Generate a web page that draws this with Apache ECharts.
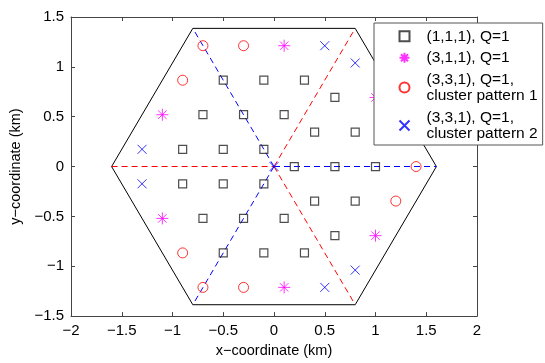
<html>
    <head>
        <meta charset="utf-8">
        <script src="https://cdn.jsdelivr.net/npm/echarts@6/dist/echarts.min.js"></script>
    </head>
    <body style="margin:0">
        <div id="main" style="width:545px;height:363px"></div>
        <script>

        // marker positions (km)
        var squarePts = [
            [-0.9, 0.173], [-0.5, 0.173], [-0.1, 0.173],
            [-0.7, 0.52], [-0.3, 0.52], [0.1, 0.52],
            [-0.5, 0.866], [-0.1, 0.866], [0.3, 0.866],
            [-0.9, -0.173], [-0.5, -0.173], [-0.1, -0.173],
            [-0.7, -0.52], [-0.3, -0.52], [0.1, -0.52],
            [-0.5, -0.866], [-0.1, -0.866], [0.3, -0.866],
            [0.2, 0], [0.6, 0], [1.0, 0],
            [0.4, 0.346], [0.8, 0.346], [0.4, -0.346], [0.8, -0.346],
            [0.6, 0.693], [0.6, -0.693]
        ];
        var starPts = [[-1.1, 0.52], [-1.1, -0.52], [0.1, 1.212], [0.1, -1.212], [1.0, 0.693], [1.0, -0.693]];
        var circlePts = [[-0.9, 0.866], [-0.9, -0.866], [-0.7, 1.212], [-0.7, -1.212], [-0.3, 1.212], [-0.3, -1.212],
            [1.4, 0], [1.2, 0.346], [1.2, -0.346]];
        var crossPts = [[-1.3, 0.173], [-1.3, -0.173], [0.5, 1.212], [0.5, -1.212], [0, 0], [0.8, 1.039], [0.8, -1.039]];

        var hexPts = [[-1.6, 0], [-0.8, 1.386], [0.8, 1.386], [1.6, 0], [0.8, -1.386], [-0.8, -1.386], [-1.6, 0]];
        var redSegs = [[[-1.6, 0], [0, 0]], [[0, 0], [0.8, 1.386]], [[0, 0], [0.8, -1.386]]];
        var blueSegs = [[[0, 0], [1.6, 0]], [[0, 0], [-0.8, 1.386]], [[0, 0], [-0.8, -1.386]]];

        var names = ['(1,1,1), Q=1', '(3,1,1), Q=1', '(3,3,1), Q=1,\ncluster pattern 1', '(3,3,1), Q=1,\ncluster pattern 2'];
        var markColors = ['#222', '#f0f', '#f00', '#00f'];

        var starPath = 'path://M0,-1L0,1M-1,0L1,0M-0.7,-0.7L0.7,0.7M-0.7,0.7L0.7,-0.7';
        var crossPath = 'path://M-1,-1L1,1M-1,1L1,-1';

        var chart = echarts.init(document.getElementById('main'));
        var font = 'Liberation Sans, Arial, sans-serif';

        function fmt(v) { return String(v).replace('-', '\u2212'); }

        var axisLine = { show: true, onZero: false, lineStyle: { color: '#444', width: 1 } };
        var axisTick = { show: true, inside: true, length: 4, lineStyle: { color: '#444' } };

        chart.setOption({
            animation: false,
            grid: { left: 71, right: 68, top: 17, bottom: 40 },
            xAxis: [{
                type: 'value', min: -2, max: 2, interval: 0.5, position: 'bottom',
                name: 'x\u2212coordinate (km)', nameLocation: 'middle', nameGap: 25,
                nameTextStyle: { fontFamily: font, fontSize: 14.5, color: '#000' },
                axisLine: axisLine, axisTick: axisTick, splitLine: { show: false },
                axisLabel: { formatter: fmt, fontFamily: font, fontSize: 15, color: '#000', margin: 7 }
            }, {
                type: 'value', min: -2, max: 2, interval: 0.5, position: 'top',
                axisLine: axisLine, axisTick: axisTick, splitLine: { show: false },
                axisLabel: { show: false }
            }],
            yAxis: [{
                type: 'value', min: -1.5, max: 1.5, interval: 0.5, position: 'left',
                name: 'y\u2212coordinate (km)', nameLocation: 'middle', nameGap: 35,
                nameTextStyle: { fontFamily: font, fontSize: 14.5, color: '#000' },
                axisLine: axisLine, axisTick: axisTick, splitLine: { show: false },
                axisLabel: { formatter: fmt, fontFamily: font, fontSize: 15, color: '#000', margin: 7 }
            }, {
                type: 'value', min: -1.5, max: 1.5, interval: 0.5, position: 'right',
                axisLine: axisLine, axisTick: axisTick, splitLine: { show: false },
                axisLabel: { show: false }
            }],
            legend: {
                orient: 'vertical',
                left: 374, top: 23,
                padding: [5, 5, 3, 23],
                itemWidth: 10, itemHeight: 10, itemGap: 5,
                backgroundColor: '#fff',
                borderColor: '#555', borderWidth: 1,
                textStyle: { fontFamily: font, fontSize: 15.5, color: '#000', lineHeight: 16.5, padding: [0, 0, 0, 12] },
                data: names
            },
            series: [{
                type: 'lines', coordinateSystem: 'cartesian2d', polyline: true, silent: true,
                data: [{ coords: hexPts }],
                lineStyle: { color: '#000', width: 1, opacity: 1 }
            }, {
                type: 'lines', coordinateSystem: 'cartesian2d', silent: true,
                data: redSegs.map(function (s) { return { coords: s }; }),
                lineStyle: { color: '#f00', width: 1, type: [6, 4], opacity: 1 }
            }, {
                type: 'lines', coordinateSystem: 'cartesian2d', silent: true,
                data: blueSegs.map(function (s) { return { coords: s }; }),
                lineStyle: { color: '#00f', width: 1, type: [6, 4], opacity: 1 }
            }, {
                name: names[0], type: 'scatter', data: squarePts,
                symbol: 'rect', symbolSize: 8,
                itemStyle: { color: 'none', borderColor: markColors[0], borderWidth: 1.2 }
            }, {
                name: names[1], type: 'scatter', data: starPts,
                symbol: starPath, symbolSize: 12,
                itemStyle: { color: 'none', borderColor: markColors[1], borderWidth: 1 }
            }, {
                name: names[2], type: 'scatter', data: circlePts,
                symbol: 'circle', symbolSize: 10,
                itemStyle: { color: 'none', borderColor: markColors[2], borderWidth: 1 }
            }, {
                name: names[3], type: 'scatter', data: crossPts,
                symbol: crossPath, symbolSize: 9,
                itemStyle: { color: 'none', borderColor: markColors[3], borderWidth: 1 }
            }]
        });

        window.onresize = chart.resize;

        </script>
    </body>
</html>
